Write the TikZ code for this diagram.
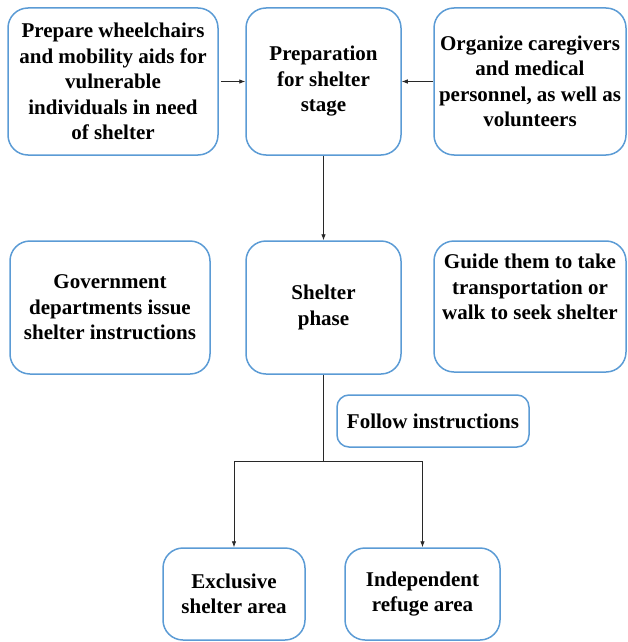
\documentclass[tikz,border=0pt]{standalone}
\usepackage{fontspec}
\setmainfont{Liberation Serif}[BoldFont={Liberation Serif Bold}]
\usetikzlibrary{arrows.meta}
\definecolor{boxblue}{RGB}{91,155,213}
\definecolor{linegray}{RGB}{40,40,40}

\begin{document}
\begin{tikzpicture}[x=1pt, y=-1pt,
	every node/.style = {shape=rectangle, rounded corners=20pt,
		draw=boxblue, line width=1.5pt, align=center, inner sep=2pt,
		font=\rmfamily\bfseries\fontsize{21}{25.5}\selectfont},
	link/.style = {draw=linegray, line width=0.8pt},
	arrowlink/.style = {link, -{Latex[length=6pt,width=4.5pt]}}]
	\useasboundingbox (0,0) rectangle (628,642);
	% preparation row
	\node[minimum width=210pt, minimum height=147pt] (aids) at (113,81.5)
		{Prepare wheelchairs\\and mobility aids for\\vulnerable\\individuals in need\\of shelter};
	\node[minimum width=155pt, minimum height=147pt] (prep) at (323.5,81.5)
		{Preparation\\for shelter\\stage};
	\node[minimum width=192pt, minimum height=147pt] (staff) at (530,81.5)
		{Organize caregivers\\and medical\\personnel, as well as\\volunteers};
	% shelter row
	\node[minimum width=200pt, minimum height=133pt] (gov) at (110,307.5)
		{Government\\departments issue\\shelter instructions};
	\node[minimum width=155pt, minimum height=133pt] (shelter) at (323.5,307.5)
		{Shelter\\phase};
	\node[minimum width=192pt, minimum height=131pt] (guide) at (530,306.5)
		{Guide them to take\\transportation or\\walk to seek shelter\\[14pt]};
	\node[minimum width=192pt, minimum height=52pt, rounded corners=12pt] (follow) at (433,421)
		{Follow instructions};
	% areas
	\node[minimum width=142pt, minimum height=92pt] (excl) at (234,594)
		{Exclusive\\shelter area};
	\node[minimum width=155pt, minimum height=92pt] (indep) at (422.5,594)
		{Independent\\refuge area};
	\coordinate (split) at (323.5,461);

	\draw[arrowlink, shorten <=2pt] (aids) -- (prep);
	\draw[arrowlink] (staff) -- (prep);
	\draw[arrowlink] (prep) -- (shelter);
	\draw[link] (shelter) -- (split);
	\draw[arrowlink] (split) -| (excl);
	\draw[arrowlink] (split) -| (indep);
\end{tikzpicture}
\end{document}
